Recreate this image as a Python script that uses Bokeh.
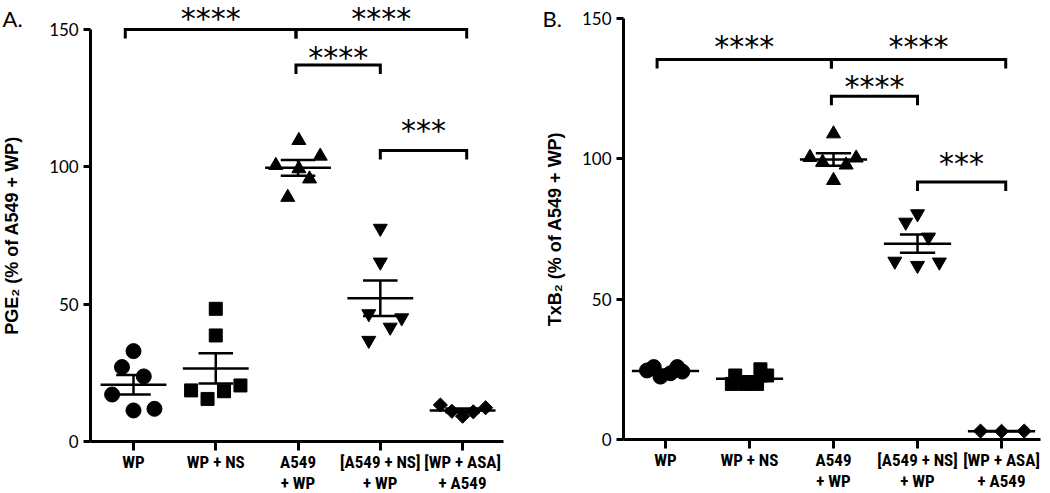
import numpy as np
from bokeh.plotting import figure
from bokeh.models import Range1d, FixedTicker, Label, LabelSet, ColumnDataSource
from bokeh.core.properties import value
from bokeh.layouts import row
from bokeh.embed import file_html
from bokeh.resources import INLINE

# ---------------- data ----------------
categories = ["WP", "WP + NS", "A549\n+ WP", "[A549 + NS]\n+ WP", "[WP + ASA]\n+ A549"]

# Panel A: PGE2 (% of A549 + WP)
pge2_wp = [32.9, 27.1, 23.7, 17.1, 11.3, 11.9]
pge2_wp_ns = [48.3, 38.6, 20.4, 18.6, 18.3, 15.5]
pge2_a549_wp = [109.6, 103.9, 100.5, 99.3, 95.6, 88.9]
pge2_a549ns_wp = [77.6, 65.3, 46.5, 45.0, 41.6, 36.8]
pge2_wpasa_a549 = [13.3, 11.0, 9.2, 10.8, 12.3]

# Panel B: TxB2 (% of A549 + WP)
txb2_wp = [24.6, 25.8, 22.4, 23.6, 25.8, 24.2]
txb2_wp_ns = [19.8, 22.8, 19.8, 19.8, 25.0, 22.8]
txb2_a549_wp = [108.9, 100.5, 98.8, 100.3, 97.8, 92.3]
txb2_a549ns_wp = [80.4, 77.4, 72.1, 63.5, 62.0, 63.2]
txb2_wpasa_a549 = [3.0, 2.9, 3.0]

y_ticks = [0, 50, 100, 150]

# significance comparisons (group from, group to, label)
comparisons = [(0, 2, "****"), (2, 4, "****"), (2, 3, "****"), (3, 4, "***")]

# ---------------- layout / style ----------------
pge2_groups = [pge2_wp, pge2_wp_ns, pge2_a549_wp, pge2_a549ns_wp, pge2_wpasa_a549]
txb2_groups = [txb2_wp, txb2_wp_ns, txb2_a549_wp, txb2_a549ns_wp, txb2_wpasa_a549]

pge2_spread = [[0, -0.14, 0.125, -0.26, 0, 0.255],
               [0, 0, 0.3, -0.3, 0.1, -0.1],
               [0.01, 0.27, -0.27, 0.01, 0.14, -0.125],
               [0, 0, -0.14, 0.26, 0.12, -0.14],
               [-0.27, -0.13, 0, 0.13, 0.28]]
txb2_spread = [[-0.22, -0.14, -0.06, 0.06, 0.14, 0.2],
               [-0.21, -0.17, -0.05, 0.09, 0.13, 0.21],
               [0, -0.28, -0.13, 0.27, 0.15, 0],
               [0, -0.14, 0.13, -0.27, 0, 0.26],
               [-0.25, 0, 0.27]]

marker_styles = [("circle", 15, 0.0), ("square", 13, 0.0), ("triangle", 14, 0.0),
                 ("inverted_triangle", 14, 0.0), ("square", 10, np.pi / 4)]
end_shift = {0: -0.1, 2: -0.025, 3: 0.0, 4: 0.05}

pge2_bracket_y = [150, 150, 137.1, 105.9]
pge2_star_y = [150.0, 150.0, 136.0, 109.3]
txb2_bracket_y = [135.4, 135.4, 122.3, 91.7]
txb2_star_y = [136.3, 136.3, 122.0, 94.5]

CAT_FONT = "Roboto Condensed, Roboto"
FIG_H = 493


def make_panel(groups, spread, bracket_y, star_y, width, xr, yr, axis_x, x_bounds,
               px_per_unit, ylab, ylab_x, letter, letter_x, letter_y):
    p = figure(width=width, height=FIG_H, x_range=Range1d(*xr), y_range=Range1d(*yr),
               output_backend="svg", toolbar_location=None,
               min_border_left=0, min_border_right=0,
               min_border_top=0, min_border_bottom=0)
    p.outline_line_color = None
    p.xgrid.visible = False
    p.ygrid.visible = False
    p.background_fill_color = "white"
    p.border_fill_color = "white"

    # axes (pinned at the data origin of each panel)
    for ax in (p.xaxis[0], p.yaxis[0]):
        ax.axis_line_width = 3
        ax.axis_line_color = "black"
        ax.major_tick_line_width = 3
        ax.major_tick_line_color = "black"
        ax.major_tick_in = 0
        ax.minor_tick_in = 0
        ax.minor_tick_out = 0
        ax.major_label_text_color = "black"
    p.yaxis.fixed_location = axis_x
    p.yaxis.ticker = FixedTicker(ticks=y_ticks)
    p.yaxis.bounds = (y_ticks[0], y_ticks[-1])
    p.yaxis.major_tick_out = 7
    p.yaxis.major_label_standoff = 5
    p.yaxis.major_label_text_font = "Lato"
    p.yaxis.major_label_text_font_size = "17px"

    p.xaxis.fixed_location = 0
    p.xaxis.bounds = x_bounds
    p.xaxis.ticker = FixedTicker(ticks=list(range(len(categories))))
    p.xaxis.major_label_overrides = {i: c for i, c in enumerate(categories)}
    p.xaxis.major_tick_out = 9
    p.xaxis.major_label_standoff = 2
    p.xaxis.major_label_text_font = CAT_FONT
    p.xaxis.major_label_text_font_style = "bold"
    p.xaxis.major_label_text_font_size = "17px"
    p.xaxis.major_label_text_line_height = 1.05

    # points
    for i, (vals, offs) in enumerate(zip(groups, spread)):
        m, s, ang = marker_styles[i]
        xs = [i + o for o in offs]
        p.scatter(xs, vals, marker=m, size=s, angle=ang, color="black")

    # mean +/- SEM
    idx = np.arange(len(groups), dtype=float)
    means = np.array([np.mean(g) for g in groups])
    sems = np.array([np.std(g, ddof=1) / np.sqrt(len(g)) for g in groups])
    lw = 2.5
    p.segment(idx - 0.4, means, idx + 0.4, means, line_width=lw, color="black")
    p.segment(idx, means - sems, idx, means + sems, line_width=lw, color="black")
    p.segment(idx - 0.21, means + sems, idx + 0.21, means + sems, line_width=lw, color="black")
    p.segment(idx - 0.21, means - sems, idx + 0.21, means - sems, line_width=lw, color="black")

    # significance brackets
    drop = 9.0 / px_per_unit
    bxs, bys, sx, sy, st = [], [], [], [], []
    for (a, b, lab), by, syy in zip(comparisons, bracket_y, star_y):
        x1 = a + end_shift[a]
        x2 = b + end_shift[b]
        bxs.append([x1, x1, x2, x2])
        bys.append([by - drop, by, by, by - drop])
        sx.append((x1 + x2) / 2)
        sy.append(syy)
        st.append(lab)
    p.multi_line(bxs, bys, line_width=3, color="black", line_join="miter")
    src = ColumnDataSource(dict(x=sx, y=sy, text=st))
    p.add_layout(LabelSet(x="x", y="y", text="text", source=src,
                          text_font=value("DejaVu Sans"), text_font_size="30px",
                          text_align="center", text_baseline="alphabetic",
                          text_color="black"))

    # y label and panel letter
    p.add_layout(Label(x=ylab_x, y=75, text=ylab, angle=np.pi / 2,
                       text_align="center", text_baseline="middle",
                       text_font="Liberation Sans", text_font_style="bold",
                       text_font_size="18px", text_color="black"))
    p.add_layout(Label(x=letter_x, y=letter_y, text=letter,
                       text_align="left", text_baseline="alphabetic",
                       text_font="Lato", text_font_size="22px", text_color="black"))
    return p


pa = make_panel(pge2_groups, pge2_spread, pge2_bracket_y, pge2_star_y,
                width=520, xr=(-1.6166, 4.704), yr=(-18.93, 160.54),
                axis_x=-0.52, x_bounds=(-0.52, 4.5), px_per_unit=2.747,
                ylab="PGE\u2082 (% of A549 + WP)", ylab_x=-1.477,
                letter="A.", letter_x=-1.592, letter_y=154.0)

pb = make_panel(txb2_groups, txb2_spread, txb2_bracket_y, txb2_star_y,
                width=530, xr=(-1.726, 4.583), yr=(-19.24, 156.4),
                axis_x=-0.5, x_bounds=(-0.5, 4.464), px_per_unit=2.807,
                ylab="TxB\u2082 (% of A549 + WP)", ylab_x=-1.321,
                letter="B.", letter_x=-1.464, letter_y=149.9)

layout = row(pa, pb)
open("out.html", "w").write(file_html(layout, INLINE))
